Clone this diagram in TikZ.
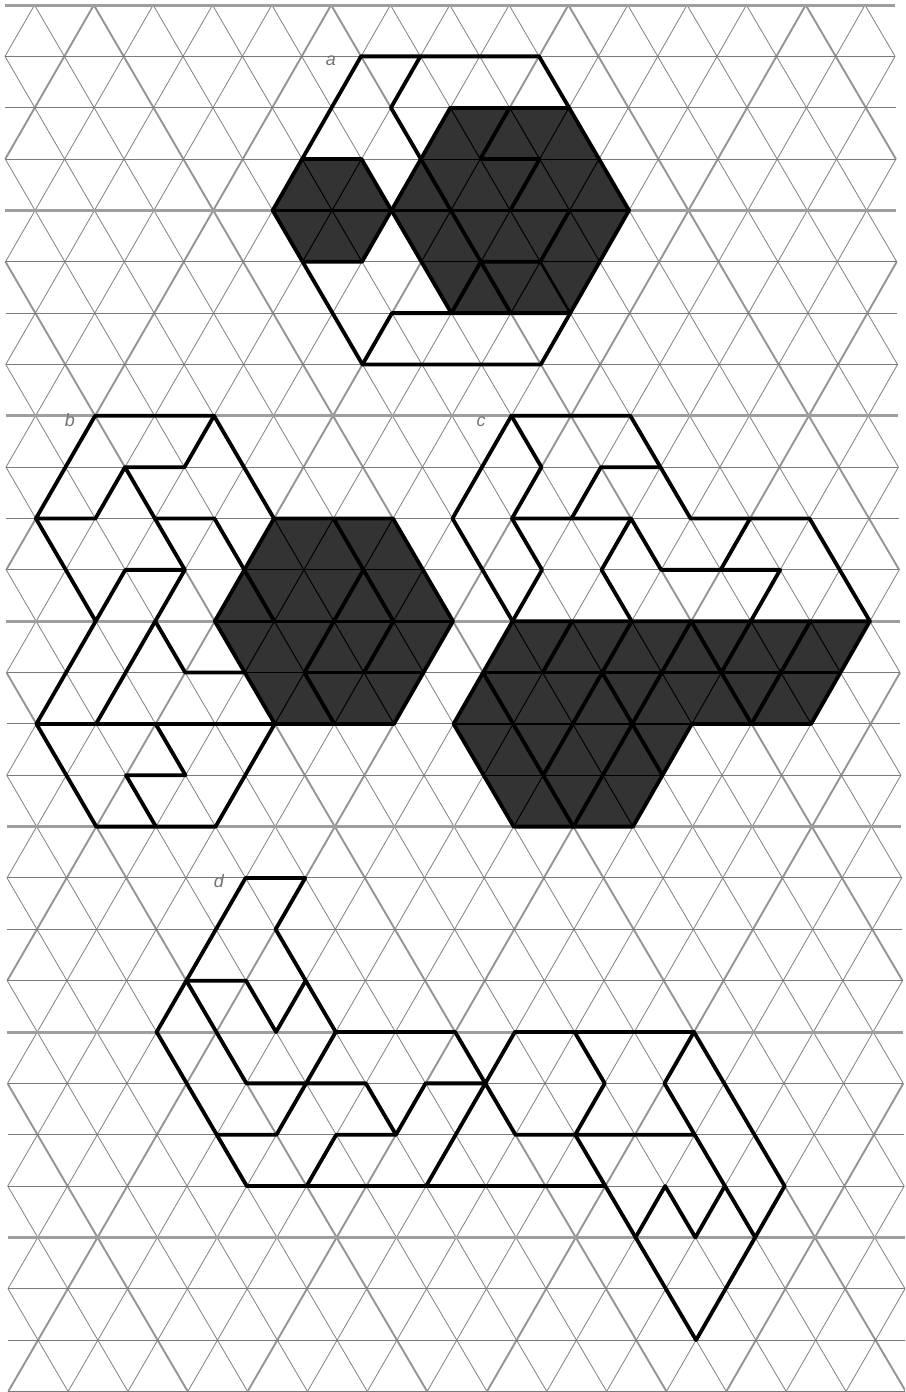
\documentclass[tikz,border=0pt]{standalone}
\usepackage{fontspec}
\setmainfont{Liberation Sans}
\tikzset{
  thingrid/.style={draw=black!48,line width=0.85pt},
  heavygrid/.style={draw=black!42,line width=1.9pt},
  thinrow/.style={draw=black!52,line width=1pt},
  heavyrow/.style={fill=black!38},
  darkfill/.style={fill=black!80},
  darkgrid/.style={draw=black,line width=1pt},
  outl/.style={draw=black,line width=3.8pt,line join=round,line cap=round},
  midl/.style={draw=black,line width=2.6pt,line join=round,line cap=round},
  tag/.style={text=black!55,font=\fontsize{18}{18}\selectfont\itshape,inner sep=0pt},
}
% grid segments of the triangular lattice, going down from every lattice point
\newcommand\latticesegs[6]{%
  \foreach \j in {#3,...,#4}{%
    \foreach \i in {#1,...,#2}{%
      \ifodd\numexpr\i+\j+100\relax\else
        \pgfmathtruncatemacro\jn{\j+1}%
        \pgfmathtruncatemacro\il{\i-1}%
        \pgfmathtruncatemacro\ir{\i+1}%
        \ifnum\i>#1\relax
          \ifnum\numexpr(\i+\j+102)/8*8\relax=\numexpr\i+\j+102\relax
            \draw[#5] (p\i-\j)--(p\il-\jn);\else\draw[#6] (p\i-\j)--(p\il-\jn);\fi
        \fi
        \ifnum\i<#2\relax
          \ifnum\numexpr(\i-\j+102)/8*8\relax=\numexpr\i-\j+102\relax
            \draw[#5] (p\i-\j)--(p\ir-\jn);\else\draw[#6] (p\i-\j)--(p\ir-\jn);\fi
        \fi
      \fi
    }%
  }%
}
\newcommand\darkpatch[5]{%
  \begin{scope}
    \path[clip] #1;
    \fill[darkfill] #1;
    \latticesegs{#2}{#3}{#4}{#5}{darkgrid}{darkgrid}
    \foreach \j in {#4,...,#5}{\draw[darkgrid] (p#2-\j)--(p#3-\j);}
  \end{scope}%
}
\begin{document}
\begin{tikzpicture}[x=1pt,y=-1pt]
\useasboundingbox (0,0) rectangle (905,1392);
\begin{scope}
\clip (0,0) rectangle (905,1392);
% lattice points
\foreach \j in {0,...,28}{\foreach \i in {-1,...,29}{%
  \coordinate (p\i-\j) at ({34.53+0.135*\j+(29.66+0.0096*\j)*\i},{5+51.35*\j});
}}
% background grid
\latticesegs{-1}{29}{0}{26}{heavygrid}{thingrid}
\foreach \j in {0,...,27}{%
  \ifnum\numexpr\j/4*4\relax=\j\relax
    \fill[heavyrow] ([yshift=-1.5pt]p-1-\j) rectangle ([yshift=1.5pt]p29-\j);
  \else
    \draw[thinrow] (p-1-\j)--(p29-\j);
  \fi
}
% dark regions
\darkpatch{(p9-3)--(p11-3)--(p12-4)--(p11-5)--(p9-5)--(p8-4)--cycle}{7}{13}{3}{5}
\darkpatch{(p14-2)--(p18-2)--(p20-4)--(p18-6)--(p14-6)--(p12-4)--cycle}{11}{21}{2}{6}
\darkpatch{(p8-10)--(p12-10)--(p14-12)--(p12-14)--(p8-14)--(p6-12)--cycle}{5}{15}{10}{14}
\darkpatch{(p16-12)--(p28-12)--(p26-14)--(p22-14)--(p20-16)--(p16-16)--(p14-14)--cycle}{13}{29}{12}{16}
% figure a
\draw[outl] (p11-1)--(p17-1)--(p20-4)--(p17-7)--(p11-7)--(p8-4)--cycle;
\draw[outl] (p13-1)--(p12-2)--(p13-3)--(p14-4)--(p15-5)--(p16-6);
\draw[outl] (p14-6)--(p12-6)--(p11-7);
\draw[outl] (p9-3)--(p11-3)--(p12-4)--(p11-5)--(p9-5);
\draw[midl] (p8-4)--(p12-4);
\draw[outl] (p14-2)--(p18-2);
\draw[outl] (p12-4)--(p14-2);
\draw[outl] (p12-4)--(p14-6)--(p18-6);
\draw[outl] (p12-4)--(p20-4);
\draw[outl] (p16-2)--(p15-3)--(p17-3)--(p16-4);
\draw[outl] (p14-6)--(p15-5)--(p17-5)--(p18-4);
\draw[midl] (p17-5)--(p18-6);
\node[tag] (la) at (331,61) {a};
% figure b
\draw[outl] (p2-8)--(p6-8)--(p8-10)--(p12-10)--(p14-12)--(p12-14)--(p0-14)--(p2-16)--(p6-16)--(p8-14);
\draw[outl] (p2-8)--(p0-10)--(p2-10)--(p3-9)--(p5-9)--(p6-8);
\draw[outl] (p3-9)--(p4-10)--(p5-11)--(p4-12)--(p2-14);
\draw[outl] (p4-10)--(p6-10)--(p7-11)--(p8-12);
\draw[outl] (p0-10)--(p2-12)--(p3-11)--(p5-11);
\draw[outl] (p2-12)--(p0-14);
\draw[outl] (p4-12)--(p5-13)--(p7-13);
\draw[outl] (p8-10)--(p6-12)--(p8-14);
\draw[outl] (p4-14)--(p5-15)--(p3-15)--(p4-16);
\draw[midl] (p6-12)--(p14-12);
\draw[outl] (p10-10)--(p11-11)--(p12-12);
\draw[outl] (p11-11)--(p10-12)--(p9-13)--(p10-14);
\draw[outl] (p12-12)--(p11-13);
\draw[midl] (p9-13)--(p11-13);
\draw[outl] (p11-13)--(p13-13);
\node[tag] (lb) at (70,420) {b};
% figure c
\draw[outl] (p16-8)--(p20-8)--(p22-10)--(p26-10)--(p28-12)--(p16-12)--(p14-10)--cycle;
\draw[outl] (p16-8)--(p17-9)--(p16-10)--(p17-11)--(p16-12);
\draw[outl] (p16-10)--(p20-10)--(p21-11)--(p25-11)--(p24-12);
\draw[outl] (p18-10)--(p19-9)--(p21-9);
\draw[outl] (p20-10)--(p19-11)--(p20-12);
\draw[outl] (p24-10)--(p23-11);
\draw[outl] (p16-12)--(p14-14)--(p16-16)--(p20-16)--(p22-14)--(p26-14)--(p28-12);
\draw[outl] (p18-12)--(p17-13);
\draw[outl] (p20-12)--(p19-13)--(p18-14)--(p17-15);
\draw[outl] (p22-12)--(p21-13)--(p20-14)--(p19-15)--(p18-16);
\draw[outl] (p22-12)--(p23-13)--(p24-14);
\draw[outl] (p24-12)--(p23-13);
\draw[outl] (p26-12)--(p25-13)--(p24-14);
\draw[outl] (p15-13)--(p16-14)--(p17-15)--(p18-16);
\draw[outl] (p19-13)--(p20-14)--(p21-15);
\draw[midl] (p15-13)--(p27-13);
\draw[midl] (p14-14)--(p22-14);
\draw[line width=1.5pt] (p15-15)--(p21-15);
\node[tag] (lc) at (481,422) {c};
% figure d
\draw[outl] (p7-17)--(p9-17)--(p8-18)--(p9-19)--(p10-20)--(p14-20)--(p15-21)--(p16-20)--(p22-20)--(p25-23)--(p24-24)--(p22-26)--(p19-23)--(p18-22);
\draw[outl] (p7-17)--(p5-19)--(p4-20)--(p7-23)--(p19-23);
\draw[outl] (p5-19)--(p7-19)--(p8-20)--(p9-19);
\draw[outl] (p5-19)--(p7-21)--(p11-21)--(p12-22)--(p13-21)--(p15-21);
\draw[outl] (p10-20)--(p9-21)--(p8-22)--(p6-22);
\draw[outl] (p9-23)--(p10-22)--(p12-22);
\draw[outl] (p13-23)--(p15-21)--(p16-22)--(p22-22);
\draw[outl] (p18-20)--(p19-21)--(p18-22);
\draw[outl] (p22-20)--(p21-21)--(p22-22)--(p23-23)--(p24-24);
\draw[outl] (p20-24)--(p21-23)--(p22-24)--(p23-23);
\node[tag] (ld) at (219,881) {d};
\end{scope}
\end{tikzpicture}
\end{document}
